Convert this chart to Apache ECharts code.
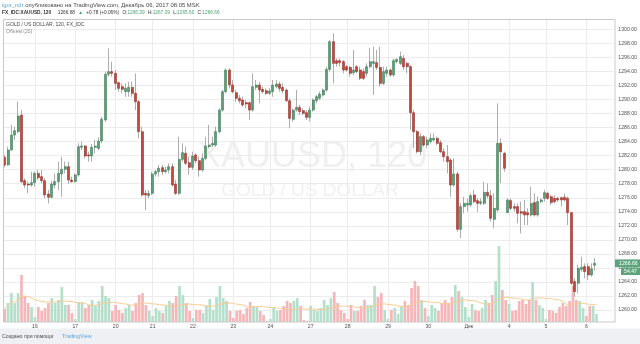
<!DOCTYPE html>
<html>
<head>
<meta charset="utf-8">
<script src="https://cdn.jsdelivr.net/npm/echarts@6/dist/echarts.min.js"></script>
<style>
  html, body { margin: 0; padding: 0; background: #ffffff; }
  #chart { width: 640px; height: 344px; }
</style>
</head>
<body>
<div id="chart"></div>
<script>
// XAUUSD, 2-hour bars, 15 Nov – 6 Dec 2017
const opens = [
  1281.76,1280.70,1282.81,1284.94,1285.42,1287.79,1278.44,1277.96,1277.82,1278.15,
  1279.48,1279.01,1278.44,1276.54,1276.07,1277.82,1278.30,1279.39,1280.05,1280.43,
  1278.53,1278.30,1279.25,1283.19,1283.38,1282.10,1281.95,1283.19,1283.04,1284.09,
  1287.08,1293.59,1293.97,1293.73,1292.40,1291.83,1291.12,1291.12,1291.73,1290.88,
  1289.69,1285.42,1276.63,1276.30,1276.63,1279.39,1279.72,1280.29,1279.72,1279.96,
  1280.43,1277.96,1276.63,1281.48,1282.33,1281.00,1280.34,1282.10,1281.29,1279.96,
  1281.62,1283.28,1283.52,1283.52,1285.42,1288.50,1291.12,1294.20,1292.07,1290.97,
  1290.17,1289.93,1289.55,1289.55,1288.50,1291.73,1292.07,1291.45,1291.26,1290.88,
  1291.12,1291.83,1292.21,1291.73,1291.35,1289.83,1287.18,1288.50,1288.88,1288.41,
  1288.12,1287.46,1288.50,1289.83,1290.17,1290.64,1291.35,1294.30,1298.24,1295.53,
  1295.53,1295.39,1294.68,1294.58,1293.82,1294.68,1294.20,1293.97,1293.73,1294.68,
  1295.15,1295.25,1294.58,1292.30,1293.73,1294.20,1293.49,1295.39,1295.15,1295.86,
  1295.15,1294.68,1288.12,1285.42,1282.57,1284.71,1283.52,1283.99,1284.23,1284.47,
  1283.85,1282.57,1281.86,1281.38,1277.82,1279.39,1271.51,1274.74,1274.97,1274.97,
  1276.40,1275.59,1275.21,1275.21,1276.78,1276.30,1272.93,1274.26,1283.76,1282.33,
  1273.88,1275.59,1274.74,1274.74,1274.02,1274.02,1273.88,1273.55,1275.31,1273.55,
  1275.45,1275.92,1276.63,1276.16,1275.92,1275.92,1276.02,1276.07,1275.92,1273.88,
  1264.05,1263.82,1265.81,1266.19,1266.19,1265.00,1266.39
];
const highs = [
  1282.10,1283.28,1286.37,1286.13,1289.69,1288.50,1278.77,1278.30,1279.72,1279.72,
  1279.96,1279.96,1278.77,1277.11,1278.44,1279.48,1281.15,1281.86,1281.15,1281.15,
  1279.01,1279.48,1283.76,1283.99,1283.52,1282.57,1283.66,1284.23,1284.61,1287.56,
  1293.97,1297.29,1295.39,1294.20,1292.54,1292.30,1292.30,1292.54,1292.54,1293.73,
  1289.93,1286.13,1277.11,1277.11,1279.72,1279.96,1280.67,1280.67,1280.43,1280.91,
  1280.91,1278.53,1284.71,1283.76,1283.28,1281.86,1282.57,1282.33,1281.86,1282.33,
  1284.71,1286.37,1284.71,1286.13,1288.74,1291.35,1294.44,1294.44,1292.78,1291.35,
  1290.64,1290.40,1289.93,1289.69,1293.73,1292.78,1292.54,1291.83,1291.59,1291.59,
  1292.78,1292.78,1292.54,1292.30,1291.59,1290.17,1288.74,1291.35,1289.22,1288.74,
  1288.50,1288.98,1290.17,1290.64,1291.12,1291.59,1294.68,1298.48,1299.43,1295.86,
  1295.86,1295.63,1294.91,1294.77,1297.05,1294.91,1294.68,1294.44,1295.15,1297.29,
  1297.53,1297.05,1297.53,1294.68,1294.68,1294.44,1295.86,1295.86,1296.81,1296.34,
  1295.39,1294.91,1288.50,1285.66,1285.18,1284.94,1284.71,1285.18,1285.18,1284.71,
  1284.23,1283.04,1283.52,1281.62,1281.62,1279.72,1275.21,1276.16,1275.92,1276.63,
  1277.11,1275.92,1275.92,1278.30,1278.06,1277.11,1276.63,1289.45,1284.47,1282.57,
  1275.92,1275.92,1275.21,1275.21,1275.45,1275.69,1274.50,1277.58,1276.63,1276.16,
  1275.92,1277.11,1276.87,1276.40,1276.40,1276.16,1276.16,1276.63,1276.16,1274.02,
  1264.53,1266.43,1267.61,1266.66,1266.66,1266.66,1267.39
];
const lows = [
  1280.34,1280.55,1282.71,1284.23,1285.18,1278.06,1277.35,1276.63,1277.58,1277.58,
  1278.53,1278.06,1275.92,1275.21,1275.92,1277.35,1277.11,1276.16,1279.48,1277.96,
  1278.15,1278.20,1279.01,1282.81,1281.62,1281.15,1281.15,1282.33,1282.81,1283.76,
  1286.84,1293.25,1293.25,1291.35,1291.12,1290.88,1290.40,1290.40,1290.40,1288.50,
  1284.47,1276.16,1274.26,1275.92,1276.40,1279.01,1279.01,1279.25,1279.48,1279.48,
  1277.58,1276.40,1276.40,1281.15,1280.67,1279.25,1279.96,1280.91,1279.01,1279.72,
  1281.38,1283.04,1283.28,1283.28,1285.18,1288.27,1290.88,1291.59,1290.88,1289.69,
  1289.45,1288.98,1288.74,1287.08,1288.27,1291.35,1289.45,1290.88,1290.64,1290.64,
  1290.40,1291.59,1291.12,1290.88,1289.69,1285.89,1286.84,1288.27,1287.79,1287.79,
  1287.08,1286.84,1288.27,1289.45,1289.93,1290.40,1291.12,1293.97,1292.30,1294.68,
  1294.68,1293.73,1293.97,1293.25,1293.49,1293.73,1292.78,1292.78,1293.25,1294.44,
  1290.64,1294.20,1291.83,1292.07,1293.25,1293.25,1293.25,1295.15,1294.91,1294.20,
  1293.73,1285.66,1283.04,1282.33,1282.10,1283.28,1283.04,1283.76,1283.99,1283.52,
  1282.33,1281.15,1279.48,1276.16,1277.58,1271.18,1270.23,1273.79,1274.02,1274.74,
  1275.21,1274.02,1274.97,1274.97,1275.92,1272.60,1271.65,1274.02,1278.06,1279.72,
  1273.79,1274.26,1274.02,1272.36,1270.94,1272.12,1272.12,1273.31,1273.31,1273.31,
  1275.21,1275.45,1275.69,1274.97,1275.21,1275.45,1274.74,1275.45,1272.12,1263.58,
  1261.92,1262.39,1265.48,1264.53,1264.29,1264.77,1265.60
];
const closes = [
  1280.67,1282.81,1284.94,1285.56,1287.65,1278.30,1277.82,1277.82,1278.15,1279.48,
  1278.87,1278.44,1276.40,1276.07,1277.96,1278.30,1279.48,1280.05,1280.43,1278.53,
  1278.30,1279.25,1283.28,1283.38,1281.95,1281.95,1283.19,1283.38,1284.09,1287.18,
  1293.59,1293.97,1293.73,1292.30,1291.59,1291.45,1291.59,1291.73,1290.88,1289.69,
  1285.42,1276.40,1276.40,1276.63,1279.39,1279.72,1280.20,1279.72,1279.96,1280.43,
  1277.82,1276.63,1281.48,1282.43,1280.91,1280.34,1281.95,1281.29,1279.96,1281.62,
  1283.38,1283.52,1283.76,1285.42,1288.50,1291.12,1294.20,1292.07,1291.12,1290.17,
  1289.83,1289.22,1289.36,1288.50,1291.83,1292.07,1291.35,1291.12,1290.88,1291.21,
  1292.07,1292.21,1291.59,1291.26,1289.83,1287.32,1288.50,1288.88,1288.27,1288.03,
  1287.46,1288.50,1289.93,1290.40,1290.78,1291.35,1294.30,1298.24,1295.15,1295.15,
  1295.25,1294.20,1294.20,1293.73,1294.20,1293.97,1293.02,1293.02,1294.68,1295.39,
  1295.39,1294.58,1292.30,1293.97,1294.20,1293.49,1295.53,1295.72,1296.10,1294.68,
  1294.68,1288.12,1285.42,1282.57,1284.71,1283.52,1284.23,1284.47,1284.47,1283.76,
  1282.57,1281.86,1281.15,1277.82,1279.39,1271.51,1274.74,1275.21,1275.21,1276.30,
  1275.45,1275.21,1275.45,1276.78,1276.30,1273.07,1274.50,1283.76,1282.57,1280.20,
  1275.69,1274.50,1274.50,1273.79,1273.79,1273.55,1273.55,1275.21,1273.55,1275.45,
  1275.69,1276.73,1275.92,1275.31,1275.45,1275.69,1275.69,1275.69,1273.88,1263.82,
  1262.63,1265.95,1266.09,1265.48,1265.00,1265.88,1266.66
];
const volumes = [
  89,129,197,129,197,320,177,129,102,34,
  102,75,95,129,163,129,150,238,116,116,
  61,20,136,136,95,116,150,109,143,245,
  177,163,75,116,82,61,95,116,75,129,
  184,197,116,75,41,95,75,61,109,143,
  129,177,245,184,129,75,27,82,82,61,
  109,157,82,170,245,163,143,75,27,75,
  82,54,95,136,109,102,75,48,7,20,
  102,75,82,109,143,129,143,163,109,14,
  7,109,82,75,95,150,116,163,204,129,
  82,61,20,116,75,75,109,150,116,116,
  245,170,197,82,20,82,95,54,109,143,
  116,232,279,245,150,95,41,116,95,75,
  129,150,129,170,252,211,170,102,34,123,
  82,75,95,150,129,184,279,518,218,150,
  123,75,82,143,150,123,150,272,150,116,
  95,20,82,75,61,102,129,109,143,245,
  150,143,95,41,109,109,54.47
];

// Day labels on the time scale and the bar each one sits on
const dayLabelIndex = [9, 21, 33, 44, 56, 68, 79, 91, 102, 114, 126, 138, 150, 161, 173];
const dayLabelText  = ['16', '17', '20', '21', '22', '23', '24', '27', '28', '29', '30', 'Дек', '4', '5', '6'];

// Price scale
const priceMin = 1258, priceMax = 1302, priceStep = 2;
const volumeMax = 600;
const volumeMaPeriod = 20;

// Header texts
const author = 'igor_ndr';
const publishedText = ' опубликовано на TradingView.com, Декабрь 06, 2017 08:05 MSK';
const symbolText = 'FX_IDC:XAUUSD, 120';
const quoteLast = '1266.68';
const quoteChange = '+0.78 (+0.06%)';
const quoteOHLC = [['O:', '1266.39'], ['H:', '1267.39'], ['L:', '1265.60'], ['C:', '1266.66']];
const paneTitle = 'GOLD / US DOLLAR, 120, FX_IDC';
const volumeTitle = 'Объем (20)';
const volumeTag = '54.47';
const watermarkMain = 'XAUUSD, 120';
const watermarkSub = 'GOLD / US DOLLAR';
const footerText = 'Создано при помощи';
const footerBrand = 'TradingView';

// ---- layout & style ----
const SLOTS = 182;               // bar slots across the plot, incl. empty right margin
const LEFT = 3, RIGHT = 25;      // plot frame: x 3 .. 615
const FRAME_TOP = 19, FRAME_BOTTOM = 22;
const FONT = '"Liberation Sans", Arial, sans-serif';
const UP = '#5b9f77', DOWN = '#c4483b';
const UP_EDGE = '#3f7f59', DOWN_EDGE = '#93302a';
const WICK = '#adadad';
const VOL_UP = '#b5dfcb', VOL_DOWN = '#f6b6b8';
const GRID_LINE = '#ececec';
const QUOTE_GREEN = '#4aa36f';
const TAG_GREEN = '#5da47c';
const LINK_BLUE = '#5aa7dc';

const n = closes.length;
const categories = Array.from({ length: SLOTS }, (_, i) => String(i));
const dayCategories = Array.from({ length: SLOTS }, () => '');
dayLabelIndex.forEach((idx, j) => { dayCategories[idx] = dayLabelText[j]; });

// candle bodies without wicks; wicks as a thin outlined range from low to high
const bodyData = opens.map((o, i) => [o, closes[i], Math.min(o, closes[i]), Math.max(o, closes[i])]);
const wickData = lows.map((l, i) => [l, highs[i], l, highs[i]]);
const volumeData = volumes.map((v, i) => ({
  value: v,
  itemStyle: { color: closes[i] >= opens[i] ? VOL_UP : VOL_DOWN }
}));
const volumeMa = volumes.map((_, i) => {
  const from = Math.max(0, i - volumeMaPeriod + 1);
  const win = volumes.slice(from, i + 1);
  return +(win.reduce((a, b) => a + b, 0) / win.length).toFixed(2);
});

// price grid geometry: keep 7.018 px per dollar with 1300 at y≈29
const pxPerUnit = 7.018;
const priceTop = 29.34 - (priceMax - 1300) * pxPerUnit;
const priceHeight = (priceMax - priceMin) * pxPerUnit;
const splitCount = Math.round((priceMax - priceMin) / priceStep) + 1;
const splitColors = Array.from({ length: splitCount }, (_, i) =>
  (i === 0 || i === splitCount - 1) ? 'rgba(0,0,0,0)' : GRID_LINE);

const volHeight = volumeMax / 6.81;
const slotW = (640 - LEFT - RIGHT) / SLOTS;

const chart = echarts.init(document.getElementById('chart'), null, { renderer: 'canvas' });

const quoteRich = '{b|' + symbolText + '}  {n|' + quoteLast + '} {g|▲} {n|' + quoteChange + '} ' +
  quoteOHLC.map(p => '{n|' + p[0] + '}{g|' + p[1] + '}').join(' ');

const staticGraphics = [
  // watermark
  { id: 'wm1', type: 'text', z: -1, silent: true, style: { text: watermarkMain, x: 312, y: 157, align: 'center', verticalAlign: 'middle',
    font: '36px ' + FONT, fill: '#f0f0f0' } },
  { id: 'wm2', type: 'text', z: -1, silent: true, style: { text: watermarkSub, x: 310, y: 191, align: 'center', verticalAlign: 'middle',
    font: '19px ' + FONT, fill: '#f1f1f1' } },
  // plot frame
  { id: 'frame', type: 'rect', z: 10, silent: true, shape: { x: 3.5, y: 19.5, width: 611.5, height: 302.5 },
    style: { fill: 'none', stroke: '#c9c9c9', lineWidth: 1 } },
  // header
  { id: 'hdr1', type: 'text', z: 10, silent: true, style: {
    x: 2, y: 5, verticalAlign: 'middle',
    text: '{a|' + author + '}{t|' + publishedText + '}',
    rich: { a: { fill: LINK_BLUE, font: '5.9px ' + FONT }, t: { fill: '#4a4a4a', font: '5.9px ' + FONT } } } },
  { id: 'hdr2', type: 'text', z: 10, silent: true, style: {
    x: 2, y: 13, verticalAlign: 'middle',
    text: quoteRich,
    rich: {
      b: { fill: '#333333', font: 'bold 4.75px ' + FONT },
      n: { fill: '#333333', font: '4.75px ' + FONT },
      g: { fill: QUOTE_GREEN, font: '4.75px ' + FONT }
    } } },
  // pane legend
  { id: 'pane', type: 'text', z: 10, silent: true, style: { text: paneTitle, x: 6, y: 25, verticalAlign: 'middle',
    font: '5px ' + FONT, fill: '#4a4a4a' } },
  { id: 'vol', type: 'text', z: 10, silent: true, style: { text: volumeTitle, x: 6, y: 32, verticalAlign: 'middle',
    font: '5px ' + FONT, fill: '#8a8a8a' } },
  // footer
  { id: 'footBg', type: 'rect', z: 9, silent: true, shape: { x: 0, y: 328.5, width: 640, height: 16 },
    style: { fill: '#eef0f3' } },
  { id: 'footTxt', type: 'text', z: 10, silent: true, style: { text: footerText, x: 2, y: 336.5, verticalAlign: 'middle',
    font: '5.2px ' + FONT, fill: '#4a4a4a' } },
  { id: 'logo', type: 'group', z: 10, silent: true, x: 51, y: 333, children: [
    { type: 'circle', shape: { cx: 2.5, cy: 4, r: 2.2 }, style: { fill: '#6fb3e3' } },
    { type: 'circle', shape: { cx: 5, cy: 2.6, r: 2.6 }, style: { fill: '#4a9fd8' } },
    { type: 'circle', shape: { cx: 7.6, cy: 4, r: 2.2 }, style: { fill: '#6fb3e3' } },
    { type: 'rect', shape: { x: 2.5, y: 3.6, width: 5.1, height: 2.6 }, style: { fill: '#5aa9df' } }
  ] },
  { id: 'brand', type: 'text', z: 10, silent: true, style: { text: footerBrand, x: 62, y: 336.5, verticalAlign: 'middle',
    font: '5.4px ' + FONT, fill: LINK_BLUE } }
];

chart.setOption({
  animation: false,
  backgroundColor: '#ffffff',
  grid: [
    { left: LEFT, right: RIGHT, top: priceTop, height: priceHeight },
    { left: LEFT, right: RIGHT, bottom: FRAME_BOTTOM, height: volHeight },
    { left: LEFT + slotW / 2, right: RIGHT + slotW / 2, top: FRAME_TOP, bottom: FRAME_BOTTOM }
  ],
  xAxis: [
    { type: 'category', gridIndex: 0, data: categories, boundaryGap: true,
      axisLine: { show: false }, axisTick: { show: false }, axisLabel: { show: false }, splitLine: { show: false } },
    { type: 'category', gridIndex: 1, data: categories, boundaryGap: true,
      axisLine: { show: false }, axisTick: { show: false }, axisLabel: { show: false }, splitLine: { show: false } },
    { type: 'category', gridIndex: 2, data: dayCategories, boundaryGap: false,
      axisLine: { show: false }, axisTick: { show: false },
      axisLabel: { interval: (i, v) => v !== '', margin: 2, fontSize: 5.2, color: '#4d4d4d', fontFamily: FONT },
      splitLine: { show: true, interval: (i, v) => v !== '', lineStyle: { color: GRID_LINE, width: 1 } } }
  ],
  yAxis: [
    { type: 'value', gridIndex: 0, position: 'right', min: priceMin, max: priceMax, interval: priceStep,
      axisLine: { show: false }, axisTick: { show: false },
      axisLabel: { margin: 5, fontSize: 5.2, color: '#555555', fontFamily: FONT,
        formatter: v => (v <= priceMin || v >= priceMax) ? '' : v.toFixed(2) },
      splitLine: { show: true, lineStyle: { color: splitColors, width: 1 } } },
    { type: 'value', gridIndex: 1, min: 0, max: volumeMax, show: false, splitLine: { show: false } },
    { type: 'value', gridIndex: 2, show: false, splitLine: { show: false } }
  ],
  series: [
    { name: 'Volume', type: 'bar', xAxisIndex: 1, yAxisIndex: 1, data: volumeData,
      barWidth: 2.7, z: 1, silent: true },
    { name: 'Volume MA', type: 'line', xAxisIndex: 1, yAxisIndex: 1, data: volumeMa,
      showSymbol: false, symbol: 'none', lineStyle: { color: '#f8cc94', width: 1 }, z: 1, silent: true },
    { name: 'Wicks', type: 'candlestick', xAxisIndex: 0, yAxisIndex: 0, data: wickData,
      barWidth: 0.4, z: 3, silent: true,
      itemStyle: { color: WICK, color0: WICK, borderColor: WICK, borderColor0: WICK, borderWidth: 1 } },
    { name: 'XAUUSD', type: 'candlestick', xAxisIndex: 0, yAxisIndex: 0, data: bodyData,
      barWidth: 2.5, z: 4, silent: true,
      itemStyle: { color: UP, color0: DOWN, borderColor: UP_EDGE, borderColor0: DOWN_EDGE, borderWidth: 0.6 } }
  ],
  graphic: staticGraphics
});

// last-price tag on the price scale, placed through the axis scale
const lastY = chart.convertToPixel({ yAxisIndex: 0 }, closes[n - 1]);
chart.setOption({
  graphic: [
    { id: 'lastTag', type: 'text', z: 12, silent: true, style: {
      text: closes[n - 1].toFixed(2), x: 615, y: lastY, verticalAlign: 'middle',
      font: '5.2px ' + FONT, fill: '#ffffff', backgroundColor: TAG_GREEN, padding: [1.4, 3.5, 1.4, 4] } },
    { id: 'volTag', type: 'text', z: 12, silent: true, style: {
      text: volumeTag, x: 621, y: lastY + 8, verticalAlign: 'middle',
      font: '5.2px ' + FONT, fill: '#ffffff', backgroundColor: TAG_GREEN, padding: [1.2, 3, 1.2, 3] } }
  ]
});
</script>
</body>
</html>
